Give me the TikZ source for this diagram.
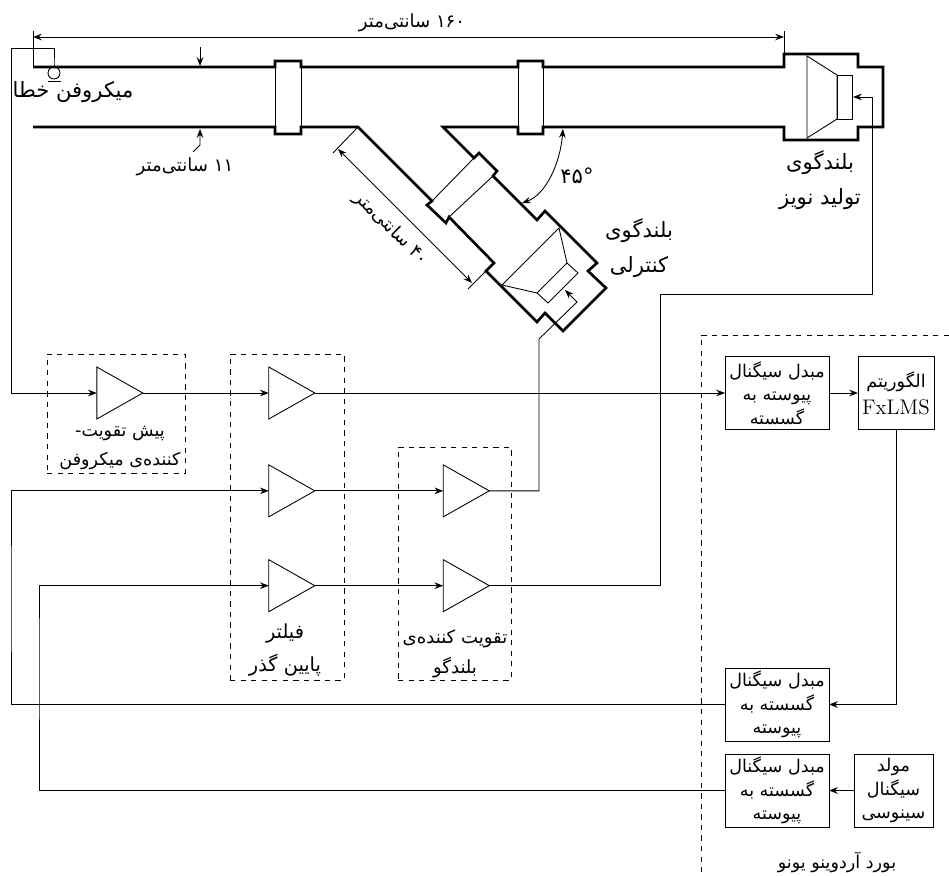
\documentclass[tikz,border=0pt]{standalone}
\usepackage{fontspec}
\usetikzlibrary{positioning, arrows.meta, shapes.geometric}
\TeXXeTstate=1
\newfontfamily\arabicfont[Script=Arabic]{DejaVu Sans}
\newcommand{\fa}[1]{\beginR #1\endR}
\newcommand{\zw}{^^^^200c}

\begin{document}
\begin{tikzpicture}[
    x=0.02cm, y=-0.02cm,
    line width=0.5pt,
    pipe/.style={line width=1.5pt, line join=miter},
    signal/.style={-{Stealth[length=5pt]}},
    dimline/.style={{Stealth[length=5pt]}-{Stealth[length=5pt]}},
    amp/.style={draw, isosceles triangle, isosceles triangle stretches, inner sep=0pt, outer sep=0pt, minimum width=1.04cm, minimum height=0.92cm},
    blockbox/.style={draw, outer sep=0pt, inner sep=0pt, minimum width=2.08cm, minimum height=1.46cm, align=center, font=\arabicfont\fontsize{10}{13.5}\selectfont},
    groupbox/.style={draw, dashed, outer sep=0pt},
    lbl/.style={align=center, inner sep=0pt, font=\arabicfont\fontsize{10.3}{19}\selectfont},
    biglbl/.style={lbl, font=\arabicfont\fontsize{12}{19.5}\selectfont},
]
    \useasboundingbox (0,0) rectangle (949,875);

    % Main pipe
    \draw[pipe] (33,67) -- (275,67) -- (275,61) -- (301,61) -- (301,67) -- (518,67) -- (518,61) -- (543,61) -- (543,67) -- (784,67) -- (784,54) -- (858,54) -- (858,67) -- (883,67) -- (883,127) -- (858,127) -- (858,140) -- (784,140) -- (784,127) -- (543,127) -- (543,134) -- (518,134) -- (518,127) -- (443,127) -- (474,158) -- (479,153) -- (497,171) -- (493,176) -- (537,220) -- (545,211) -- (597,263) -- (588,271) -- (606,288) -- (563,331) -- (545,313) -- (537,322) -- (486,271) -- (494,263) -- (449,217) -- (446,223) -- (427,205) -- (432,201) -- (358,127) -- (301,127) -- (301,134) -- (275,134) -- (275,127) -- (33,127);
    \draw (275,67) -- (275,127) (301,67) -- (301,127);
    \draw (518,67) -- (518,127) (543,67) -- (543,127);
    \draw (474,158) -- (432,201) (493,176) -- (449,217);

    % Noise speaker
    \draw (807,56) -- (807,138) -- (837,119) -- (837,75) -- cycle;
    \draw (837,75) rectangle (852,119);

    % Control speaker
    \draw (559,228) -- (502,285) -- (537,293) -- (567,263) -- cycle;
    \draw (567,263) -- (578,273) -- (548,303) -- (537,293);

    % Microphone
    \node[draw, circle, minimum size=0.24cm, inner sep=0pt, outer sep=0pt] (mic) at (54,73) {};
    \draw (48,81) -- (61,81);

    % Dimensions
    \draw (33,31) -- (33,67) (784,31) -- (784,54);
    \draw[dimline] (33,37) -- (784,37);
    \draw[signal] (200,47) -- (200,66);
    \draw[signal] (193,152) -- (200,145) -- (200,129);
    \draw (358,127) -- (333,153) (486,271) -- (468,289);
    \draw[dimline] (338,149) -- (472,283);
    \draw[dimline] (563,129) .. controls (560,165) and (545,195) .. (522,203);

    % Pipe labels
    \node[lbl] (total) at (412,23) {\fa{\beginL ۱۶۰\endL{} سانتی\zw متر}};
    \node[lbl] (width) at (185,167) {\fa{\beginL ۱۱\endL{} سانتی\zw متر}};
    \node[lbl, rotate=-45] (branch) at (391,229) {\fa{\beginL ۴۰\endL{} سانتی\zw متر}};
    \node[biglbl] (angle) at (577,176) {\beginL ۴۵°\endL};
    \node[biglbl] (miclabel) at (73,92) {\fa{میکروفن خطا}};
    \node[biglbl] (noiselabel) at (820,180) {\fa{بلندگوی}\\\fa{تولید نویز}};
    \node[biglbl] (ctrllabel) at (639,248) {\fa{بلندگوی}\\\fa{کنترلی}};

    % Dashed groups
    \node[groupbox, minimum width=2.76cm, minimum height=2.38cm] (groupmic) at (116,413.5) {};
    \node[groupbox, minimum width=2.28cm, minimum height=6.52cm] (groupfilter) at (287,517) {};
    \node[groupbox, minimum width=2.26cm, minimum height=4.66cm] (groupamp) at (454.5,563.5) {};
    \coordinate (boardtop) at (949,335);
    \coordinate (boardbot) at (701,875);
    \draw[dashed] (boardtop) -| (boardbot);

    % Amplifiers
    \node[amp] (ampmic) at (112,393) {};
    \node[amp, right=2.52cm of ampmic] (filta) {};
    \node[amp, below=1.26cm of filta] (filtb) {};
    \node[amp, below=1.2cm of filtb] (filtc) {};
    \node[amp, right=2.57cm of filtb] (drva) {};
    \node[amp, right=2.57cm of filtc] (drvb) {};

    % Board blocks
    \node[blockbox] (adc) at (777,393) {\fa{مبدل سیگنال}\\\fa{پیوسته به}\\\fa{گسسته}};
    \node[blockbox, right=0.58cm of adc, minimum width=1.52cm] (algo) {\fa{الگوریتم}\\[2pt]{\fontspec{Latin Modern Roman}\fontsize{12}{14}\selectfont FxLMS}};
    \node[blockbox] (daca) at (777,704.5) {\fa{مبدل سیگنال}\\\fa{گسسته به}\\\fa{پیوسته}};
    \node[blockbox, below=0.26cm of daca] (dacb) {\fa{مبدل سیگنال}\\\fa{گسسته به}\\\fa{پیوسته}};
    \node[blockbox, right=0.5cm of dacb, minimum width=1.58cm] (sine) {\fa{مولد}\\\fa{سیگنال}\\\fa{سینوسی}};

    % Block labels
    \node[lbl, font=\arabicfont\fontsize{10}{16}\selectfont] (micamplabel) at (120,448) {\fa{پیش تقویت-}\\\fa{کننده\zw ی میکروفن}};
    \node[lbl, font=\arabicfont\fontsize{11}{19}\selectfont] (filterlabel) at (285,650) {\fa{فیلتر}\\\fa{پایین گذر}};
    \node[lbl, font=\arabicfont\fontsize{10.3}{17}\selectfont] (drvlabel) at (455,654) {\fa{تقویت کننده\zw ی}\\\fa{بلندگو}};
    \node[lbl, font=\arabicfont\fontsize{10}{12}\selectfont] (boardlabel) at (837,862) {\fa{بورد آردوینو یونو}};

    % Wire turning points
    \coordinate (micup) at (11,48);
    \coordinate (micright) at (54,48);
    \coordinate (micdrop) at (54,67);
    \coordinate (busa) at (11,600);
    \coordinate (busb) at (39,650);
    \coordinate (ctrlup) at (539,339);
    \coordinate (ctrlbend) at (577,302);
    \coordinate (ctrlcoil) at (565,290);
    \coordinate (noiseup) at (660,294);
    \coordinate (noiseright) at (872,97);
    \coordinate (noisecoil) at (853,97);

    % Signals
    \draw[signal] (mic.north) -- (micdrop) -- (micright) -- (micup) |- (ampmic.west);
    \draw[signal] (ampmic.east) -- (filta.west);
    \draw[signal] (filta.east) -- (adc.west);
    \draw[signal] (adc.east) -- (algo.west);
    \draw[signal] (algo.south) |- (daca.east);
    \draw[signal] (daca.west) -| (busa) |- (filtb.west);
    \draw[signal] (sine.west) -- (dacb.east);
    \draw[signal] (dacb.west) -| (busb) |- (filtc.west);
    \draw[signal] (filtb.east) -- (drva.west);
    \draw[signal] (filtc.east) -- (drvb.west);
    \draw[signal] (drva.east) -| (ctrlup) -- (ctrlbend) -- (ctrlcoil);
    \draw[signal] (drvb.east) -| (noiseup) -| (noiseright) -- (noisecoil);
\end{tikzpicture}
\end{document}
